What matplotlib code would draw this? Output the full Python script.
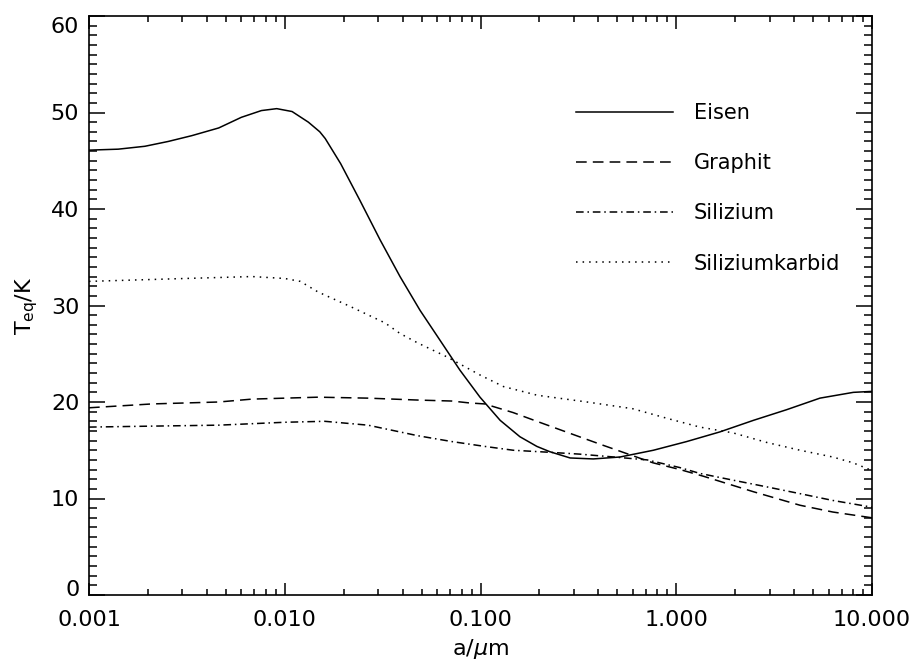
import matplotlib
matplotlib.use("Agg")
import matplotlib.pyplot as plt
from matplotlib.ticker import FormatStrFormatter, LogLocator, MultipleLocator
from matplotlib.transforms import ScaledTranslation

# Werte
x_eisen = [0.001, 0.00141, 0.00193, 0.00254, 0.00335, 0.0046, 0.0060, 0.0076, 0.0091, 0.0109,
           0.0132, 0.0151, 0.0161, 0.0193, 0.0242, 0.0307, 0.0388, 0.0491, 0.0621, 0.0785,
           0.0994, 0.126, 0.159, 0.194, 0.226, 0.287, 0.377, 0.516, 0.764, 1.13,
           1.67, 2.48, 3.66, 5.42, 8.03, 10.0]
t_eisen = [46.1, 46.2, 46.5, 47.0, 47.6, 48.4, 49.5, 50.2, 50.4, 50.1,
           49.0, 48.0, 47.3, 44.7, 40.9, 36.8, 33.0, 29.5, 26.4, 23.3,
           20.5, 18.1, 16.4, 15.4, 14.85, 14.2, 14.1, 14.3, 15.0, 15.9,
           16.9, 18.1, 19.2, 20.4, 21.0, 21.1]

x_graphit = [0.001, 0.0021, 0.0046, 0.0068, 0.0148, 0.0266, 0.048, 0.0714, 0.088, 0.105,
             0.147, 0.194, 0.32, 0.425, 0.76, 1.045, 1.38, 2.48, 4.29, 6.3, 10.0]
t_graphit = [19.4, 19.8, 20.0, 20.3, 20.5, 20.4, 20.2, 20.1, 19.9, 19.8,
             18.9, 18.0, 16.4, 15.5, 13.7, 13.0, 12.3, 10.7, 9.3, 8.6, 8.0]

x_silizium = [0.001, 0.0021, 0.0046, 0.01, 0.016, 0.0266, 0.048, 0.0714, 0.105, 0.147,
              0.22, 0.32, 0.48, 0.71, 1.045, 1.32, 1.95, 2.91, 4.29, 6.3, 10.0]
t_silizium = [17.4, 17.5, 17.6, 17.9, 18.0, 17.6, 16.5, 15.9, 15.4, 15.0,
              14.8, 14.6, 14.3, 14.0, 13.2, 12.6, 11.9, 11.2, 10.5, 9.8, 9.1]

x_sic = [0.001, 0.0031, 0.0068, 0.01, 0.012, 0.0148, 0.0216, 0.0325, 0.0388, 0.048,
         0.067, 0.0994, 0.131, 0.195, 0.35, 0.516, 0.6, 0.9, 1.32, 1.95,
         2.91, 4.29, 6.3, 8.0, 10.0]
t_sic = [32.5, 32.8, 33.0, 32.8, 32.5, 31.4, 29.9, 28.2, 27.1, 26.1,
         24.7, 22.8, 21.6, 20.7, 20.0, 19.5, 19.3, 18.3, 17.4, 16.8,
         15.8, 15.0, 14.3, 13.7, 12.9]

labels = ["Eisen", "Graphit", "Silizium", "Siliziumkarbid"]
xticks = [0.001, 0.01, 0.1, 1.0, 10.0]
yticks = [0, 10, 20, 30, 40, 50, 60]

fig = plt.figure(figsize=(9.14, 6.63), dpi=100)
ax = fig.add_axes([89 / 914, 1 - 595 / 663, (872 - 89) / 914, (595 - 16) / 663])

ax.plot(x_eisen, t_eisen, color="black", lw=1.1, label=labels[0])
ax.plot(x_graphit, t_graphit, color="black", lw=1.1, dashes=(7, 4), label=labels[1])
ax.plot(x_silizium, t_silizium, color="black", lw=1.1, dashes=(5, 2.5, 1, 2.5), label=labels[2])
ax.plot(x_sic, t_sic, color="black", lw=1.1, dashes=(1, 3.3), label=labels[3])

ax.set_xscale("log")
ax.set_xlim(0.001, 10)
ax.set_ylim(0, 60)
ax.set_xticks(xticks)
ax.set_yticks(yticks)
ax.xaxis.set_major_formatter(FormatStrFormatter("%.3f"))
ax.xaxis.set_minor_locator(LogLocator(base=10, subs=range(2, 10)))
ax.xaxis.set_minor_formatter(plt.NullFormatter())
ax.yaxis.set_minor_locator(MultipleLocator(1))

for sp in ax.spines.values():
    sp.set_linewidth(1.2)

ax.tick_params(axis="both", which="both", direction="in", top=True, right=True,
               colors="black", labelsize=16, width=1.1)
ax.tick_params(axis="x", which="major", length=9, pad=11)
ax.tick_params(axis="x", which="minor", length=4.5)
ax.tick_params(axis="y", which="major", length=11.5, pad=7)
ax.tick_params(axis="y", which="minor", length=6)

# Randbeschriftungen der y-Achse leicht nach innen geschoben
ylabs = ax.get_yticklabels()
ylabs[0].set_transform(ylabs[0].get_transform() + ScaledTranslation(0, 0.07, fig.dpi_scale_trans))
ylabs[-1].set_transform(ylabs[-1].get_transform() + ScaledTranslation(0, -0.09, fig.dpi_scale_trans))

ax.set_xlabel(r"a/$\mu$m", fontsize=16, labelpad=5)
ax.set_ylabel(r"T$_{\rm eq}$/K", fontsize=16, labelpad=8)

ax.legend(loc="upper left", bbox_to_anchor=(576 / 914, 1 - 103 / 663),
          bbox_transform=fig.transFigure, frameon=False, fontsize=15,
          handlelength=4.65, handletextpad=1.0, labelspacing=1.45,
          borderpad=0, borderaxespad=0)

fig.savefig("out.png", dpi=100)
